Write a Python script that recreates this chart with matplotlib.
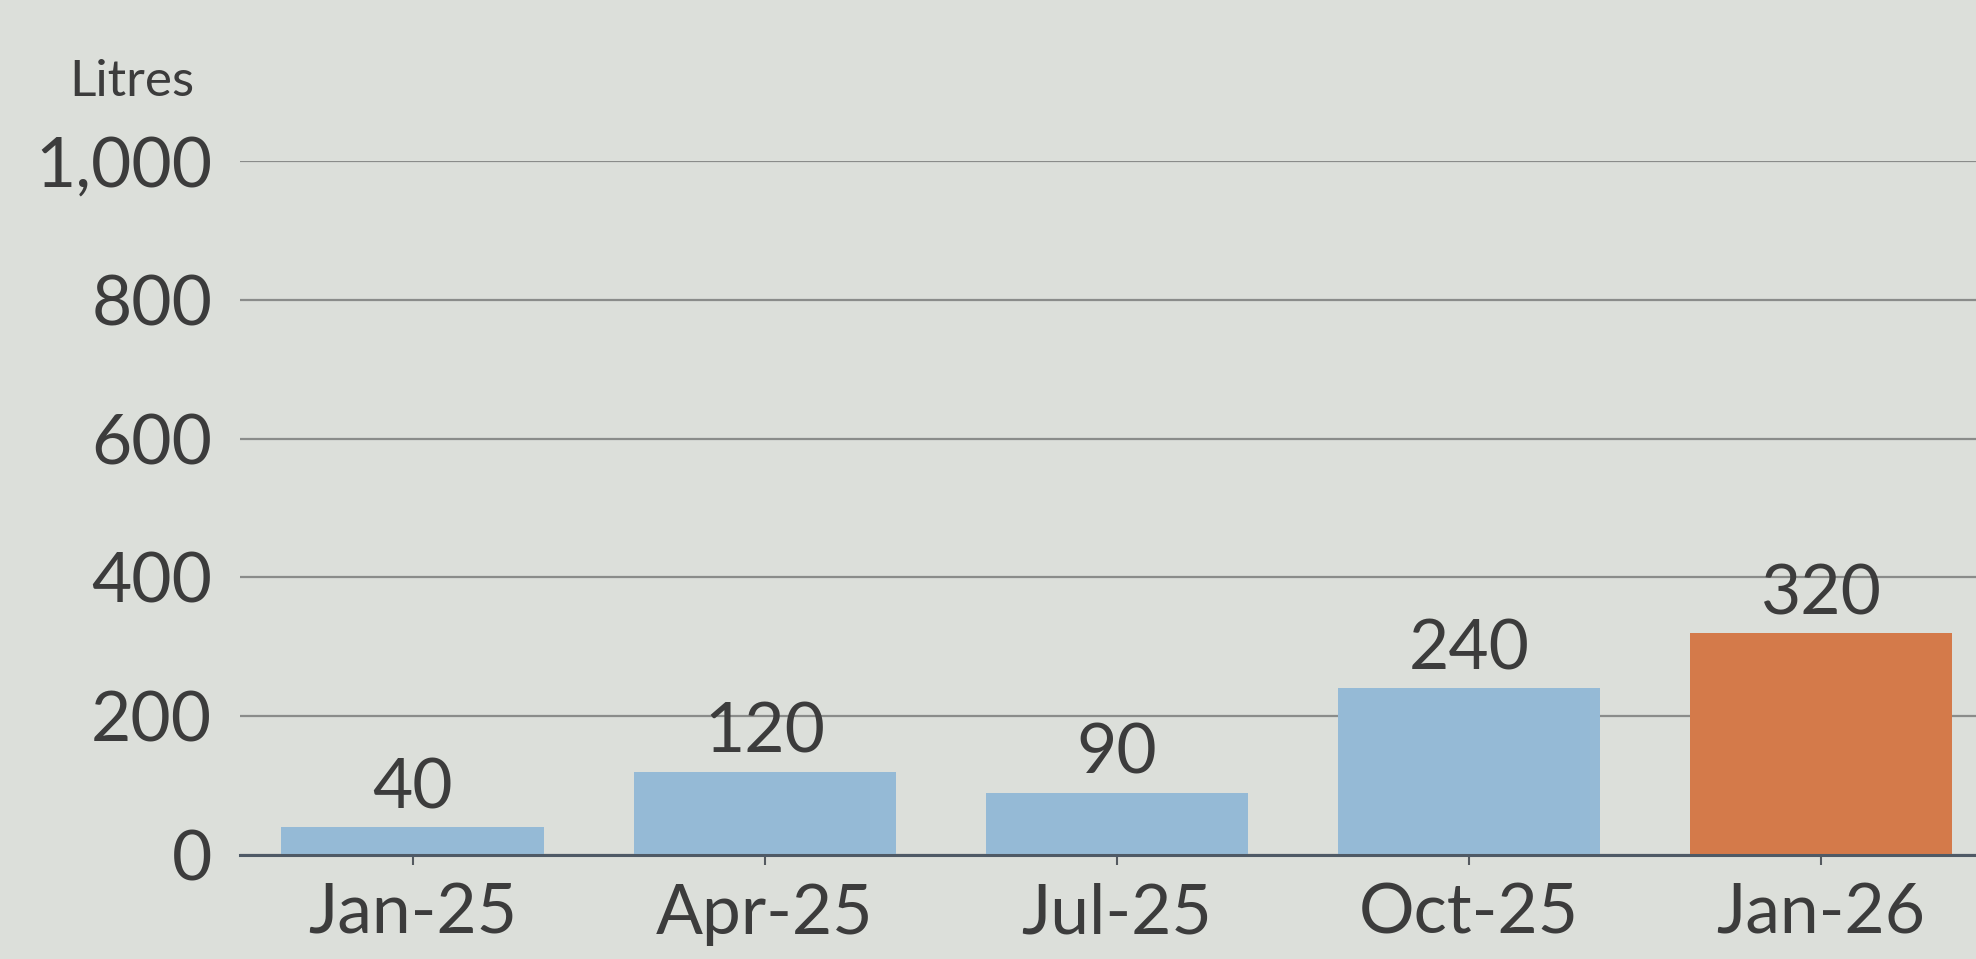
import matplotlib.pyplot as plt

months = ["Jan-25", "Apr-25", "Jul-25", "Oct-25", "Jan-26"]
litres = [40, 120, 90, 240, 320]
bar_colors = ["#95bad6", "#95bad6", "#95bad6", "#95bad6", "#d47a4a"]
yticks = [0, 200, 400, 600, 800, 1000]

BG = "#dcdfda"
TXT = "#3c3c3c"
FS = 50

plt.rcParams["font.family"] = ["Lato", "DejaVu Sans"]

fig = plt.figure(figsize=(19.76, 9.59), dpi=100, facecolor=BG)
ax = fig.add_axes([0.1215, 0.1084, 0.8785, 0.7237], facecolor=BG)

x = list(range(len(months)))
ax.bar(x, litres, width=0.745, color=bar_colors, zorder=3)

for xi, v in zip(x, litres):
    ax.text(xi, v + 10, str(v), ha="center", va="bottom", fontsize=FS, color=TXT)

ax.set_xlim(-0.49, 4.44)
ax.set_ylim(0, 1000)
ax.set_yticks(yticks)
ax.set_yticklabels(["{:,}".format(t) for t in yticks])
ax.set_xticks(x)
ax.set_xticklabels(months)

ax.tick_params(axis="y", length=0, pad=20, labelsize=FS, labelcolor=TXT)
ax.tick_params(axis="x", length=7, width=1.5, color="#555a60", pad=13,
               labelsize=FS, labelcolor=TXT)

ax.grid(axis="y", color="#8a8c8a", linewidth=1.6, zorder=0)
ax.set_axisbelow(True)
for s in ["top", "right", "left"]:
    ax.spines[s].set_visible(False)
ax.spines["bottom"].set_color("#4f5a66")
ax.spines["bottom"].set_linewidth(2.2)
ax.spines["bottom"].set_zorder(4)

fig.text(0.035, 0.914, "Litres", fontsize=37, color=TXT, ha="left", va="center")

fig.savefig("out.png", dpi=100, facecolor=BG)
